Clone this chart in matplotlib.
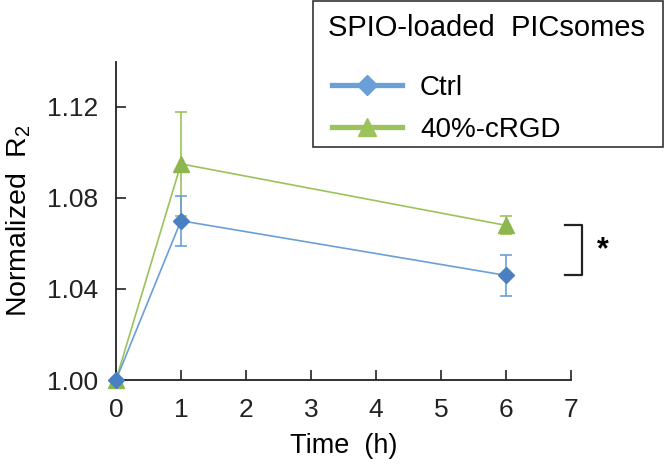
import numpy as np
import matplotlib
matplotlib.use("Agg")
import matplotlib.pyplot as plt
from matplotlib.lines import Line2D
from matplotlib.patches import Rectangle

plt.rcParams['font.family'] = ['Liberation Sans', 'DejaVu Sans']
plt.rcParams['mathtext.default'] = 'regular'

# 데이터
time_h = [0, 1, 6]
ctrl_mean = [1.000, 1.070, 1.046]
ctrl_err = [0.0, 0.011, 0.009]
crgd_mean = [1.000, 1.095, 1.068]
crgd_err = [0.0, 0.023, 0.004]
series_labels = ["Ctrl", "40%-cRGD"]
legend_title = "SPIO-loaded  PICsomes"
y_ticks = [1.00, 1.04, 1.08, 1.12]
x_ticks = [0, 1, 2, 3, 4, 5, 6, 7]

blue_line = '#6a9fd8'
blue_mark = '#4a7fc1'
green_line = '#9bc25b'
green_mark = '#8db64c'

W, H = 666, 470
fig = plt.figure(figsize=(W / 100, H / 100), dpi=100)
ax = fig.add_axes([116 / W, 1 - 380 / H, (570.7 - 116) / W, (380 - 61.5) / H])

# 40%-cRGD 먼저 그려서 t=0 에서 다이아몬드가 위에 오도록
ax.errorbar(time_h, crgd_mean, yerr=crgd_err, color=green_line, lw=1.2,
            elinewidth=1.2, capsize=4.5, capthick=1.2,
            marker='^', ms=12, mfc=green_mark, mec=green_mark, zorder=3, clip_on=False)
ax.errorbar(time_h, ctrl_mean, yerr=ctrl_err, color=blue_line, lw=1.2,
            elinewidth=1.2, capsize=4.5, capthick=1.2,
            marker='D', ms=8.5, mfc=blue_mark, mec=blue_mark, zorder=4, clip_on=False)

ax.set_xlim(0, 7)
ax.set_ylim(1.00, 1.14)
ax.set_xticks(x_ticks)
ax.set_yticks(y_ticks)
ax.set_yticklabels([f"{v:.2f}" for v in y_ticks])
ax.tick_params(direction='in', length=7, width=1.2, labelsize=19, colors='#222222')
ax.tick_params(axis='y', pad=13)
ax.tick_params(axis='x', pad=13)
for s in ['top', 'right']:
    ax.spines[s].set_visible(False)
for s in ['left', 'bottom']:
    ax.spines[s].set_linewidth(1.3)
    ax.spines[s].set_color('#222222')

ax.set_xlabel("Time  (h)", fontsize=19.5, labelpad=8)
ax.set_ylabel("Normalized  R$_2$", fontsize=20.5, labelpad=10)

# 유의성 브래킷
bx0, bx1 = 6.91, 7.17
ax.plot([bx0, bx1, bx1, bx0], [crgd_mean[2], crgd_mean[2], ctrl_mean[2], ctrl_mean[2]],
        color='#222222', lw=1.6, clip_on=False)
ax.text(7.5, (crgd_mean[2] + ctrl_mean[2]) / 2, "*", fontsize=22, ha='center', va='center',
        fontweight='bold')

# 범례: 테두리 박스 + 제목 + 항목 (엑셀 스타일)
fig.patches.append(Rectangle((313 / W, 1 - 147 / H), 350 / W, 146 / H,
                             transform=fig.transFigure, fill=False, edgecolor='#333333',
                             lw=1.2, clip_on=False))
fig.text(328 / W, 1 - 28 / H, legend_title, fontsize=21, ha='left', va='center')
handles = [
    Line2D([], [], color=blue_line, lw=3.8, marker='D', ms=10, mfc=blue_line, mec=blue_line),
    Line2D([], [], color=green_line, lw=3.8, marker='^', ms=13, mfc=green_line, mec=green_line),
]
leg = fig.legend(handles, series_labels, loc='upper left',
                 bbox_to_anchor=(332 / W, 1 - 75 / H), fontsize=20, frameon=False,
                 handlelength=2.52, handletextpad=0.65, borderpad=0, borderaxespad=0,
                 labelspacing=0.56)

fig.savefig("out.png", dpi=100)
